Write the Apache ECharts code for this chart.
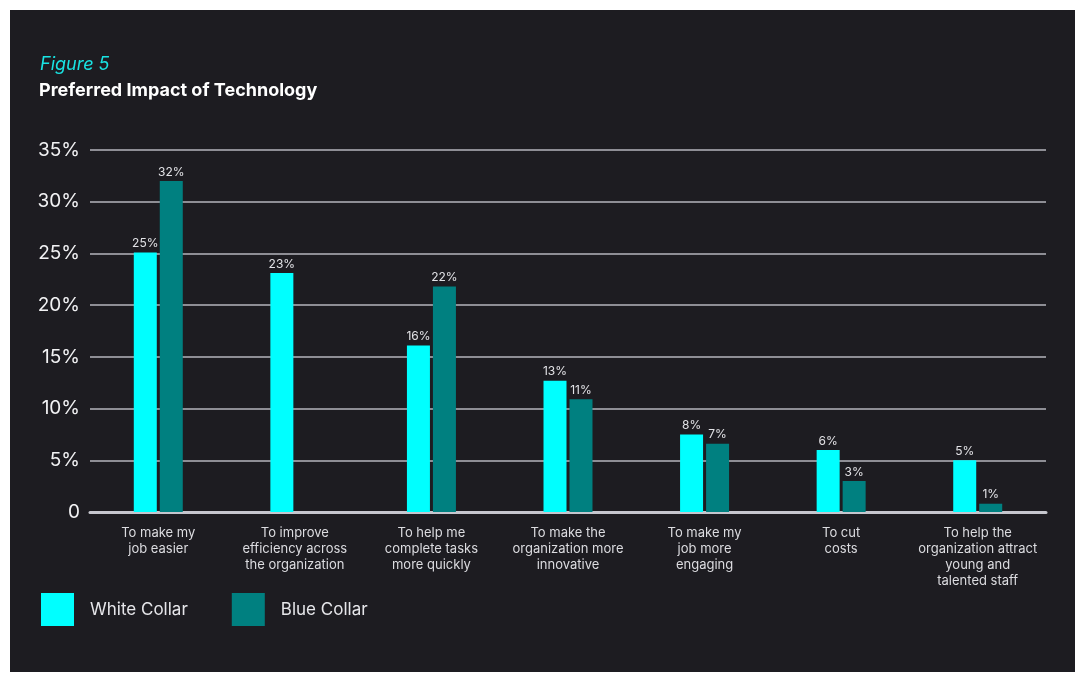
<!DOCTYPE html>
<html>
<head>
<meta charset="utf-8">
<script src="https://cdn.jsdelivr.net/npm/echarts@6/dist/echarts.min.js"></script>
<style>
  html, body { margin: 0; padding: 0; background: #ffffff; }
  #chart { position: absolute; left: 10px; top: 10px; width: 1065px; height: 662px; background: #1d1c21; }
</style>
</head>
<body>
<div id="chart"></div>
<script>
const categories = [
  'To make my\njob easier',
  'To improve\nefficiency across\nthe organization',
  'To help me\ncomplete tasks\nmore quickly',
  'To make the\norganization more\ninnovative',
  'To make my\njob more\nengaging',
  'To cut\ncosts',
  'To help the\norganization attract\nyoung and\ntalented staff'
]
const whiteCollar = [25.1, 23.1, 16.1, 12.7, 7.5, 6.0, 5.0]
const blueCollar = [32.0, null, 21.8, 10.9, 6.6, 3.0, 0.8]
const yTicks = [0, 5, 10, 15, 20, 25, 30, 35]

const chart = echarts.init(document.getElementById('chart'))

const fontFamily = 'Inter, "Liberation Sans", sans-serif'

const barLabel = {
  show: true,
  position: 'top',
  distance: 3,
  color: '#e2e2e6',
  fontSize: 12,
  fontFamily: fontFamily,
  formatter: p => Math.round(p.value) + '%'
}

const option = {
  backgroundColor: 'transparent',
  animation: false,
  title: [
    {
      text: 'Figure 5',
      left: 25,
      top: 41,
      textStyle: { color: '#19e3e3', fontSize: 18, fontStyle: 'italic', fontWeight: 'normal', fontFamily: fontFamily }
    },
    {
      text: 'Preferred Impact of Technology',
      left: 24,
      top: 67,
      textStyle: { color: '#ffffff', fontSize: 18, fontWeight: 'bold', fontFamily: fontFamily }
    }
  ],
  legend: {
    left: 26,
    top: 578,
    icon: 'rect',
    itemWidth: 33,
    itemHeight: 33,
    itemGap: 44,
    textStyle: { color: '#e6e6ea', fontSize: 17, fontFamily: fontFamily, padding: [0, 0, 0, 11] },
    data: ['White Collar', 'Blue Collar']
  },
  grid: { left: 80, right: 29, top: 140, bottom: 160 },
  xAxis: {
    type: 'category',
    data: categories,
    axisLine: { lineStyle: { color: '#c6c6ce', width: 3 } },
    axisTick: { show: false },
    axisLabel: {
      color: '#dcdce0',
      fontSize: 13,
      lineHeight: 16,
      margin: 13,
      interval: 0,
      fontFamily: fontFamily
    }
  },
  yAxis: {
    type: 'value',
    min: yTicks[0],
    max: yTicks[yTicks.length - 1],
    interval: 5,
    axisLine: { show: false },
    axisTick: { show: false },
    axisLabel: {
      color: '#f2f2f4',
      fontSize: 19,
      margin: 10,
      fontFamily: fontFamily,
      formatter: v => v === 0 ? '0' : v + '%'
    },
    splitLine: { lineStyle: { color: '#b4b4bc', width: 1.5 } }
  },
  series: [
    {
      name: 'White Collar',
      type: 'bar',
      data: whiteCollar,
      barWidth: 23,
      barGap: '13%',
      itemStyle: { color: '#00ffff' },
      label: barLabel
    },
    {
      name: 'Blue Collar',
      type: 'bar',
      data: blueCollar,
      barWidth: 23,
      itemStyle: { color: '#008080' },
      label: barLabel
    }
  ]
}

chart.setOption(option)
</script>
</body>
</html>
